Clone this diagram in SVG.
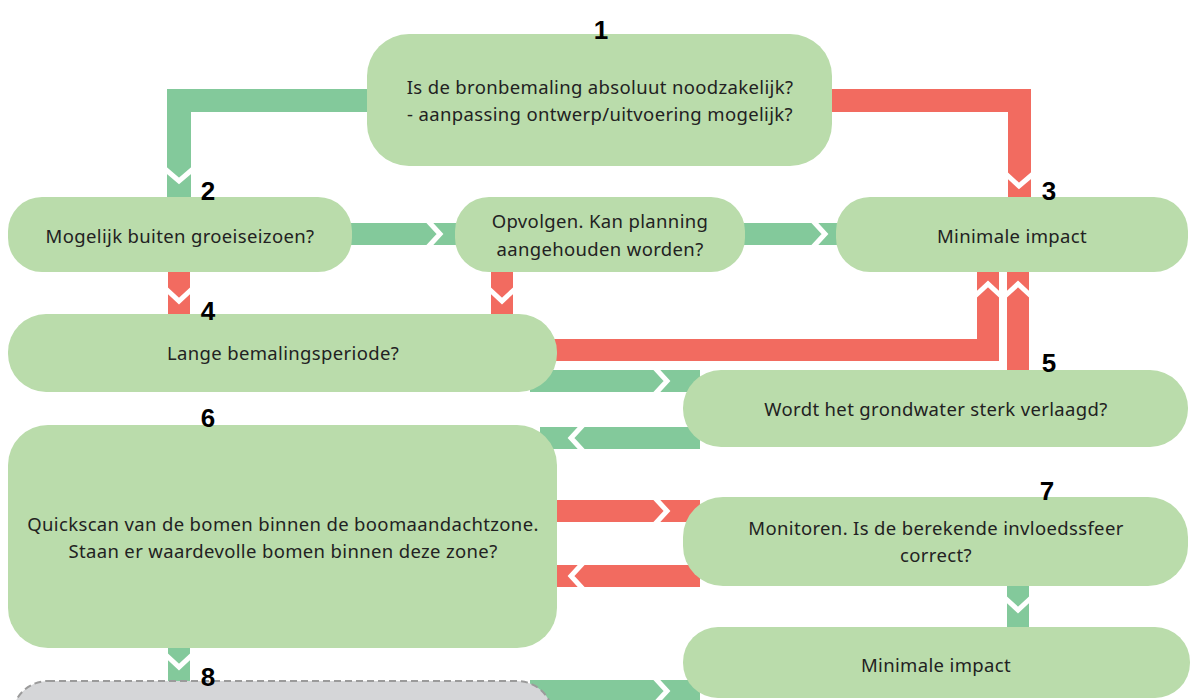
<svg xmlns="http://www.w3.org/2000/svg" width="1193" height="700" viewBox="0 0 1193 700">
<style>
.node{fill:#badcab}
.gray{fill:#d5d6d8;stroke:#9b9b9b;stroke-width:2;stroke-dasharray:7 4}
.t{font-family:"Noto Sans","DejaVu Sans",sans-serif;font-size:18.5px;letter-spacing:0.35px;fill:#222;text-anchor:middle}
.n{font-family:"Liberation Sans",Arial,sans-serif;font-weight:bold;font-size:26px;fill:#000;text-anchor:middle}
.g{fill:#83c99b}
.r{fill:#f26b60}
.chev{fill:none;stroke:#fff;stroke-width:5;stroke-linejoin:miter}
</style>
<rect width="1193" height="700" fill="#fff"/>
<g id="connectors">
  <!-- 1 -> 2 green -->
  <path class="g" d="M380 89 H167 V205 H191 V112 H380 Z"/>
  <polyline class="chev" points="165,169 179,181 193,169"/>
  <!-- 1 -> 3 red -->
  <path class="r" d="M820 89 H1031 V205 H1008 V112 H820 Z"/>
  <polyline class="chev" points="1006,174 1019,186 1033,174"/>
  <!-- 2 -> Opvolgen -->
  <rect class="g" x="340" y="223" width="130" height="22"/>
  <polyline class="chev" points="428,221 440,234 428,247"/>
  <!-- Opvolgen -> 3 -->
  <rect class="g" x="735" y="223" width="115" height="22"/>
  <polyline class="chev" points="813,221 825,234 813,247"/>
  <!-- 2 -> 4 red -->
  <rect class="r" x="168" y="265" width="22" height="55"/>
  <polyline class="chev" points="166,289 179,301 192,289"/>
  <!-- Opvolgen -> 4 red -->
  <rect class="r" x="491" y="265" width="22" height="55"/>
  <polyline class="chev" points="489,289 502,301 515,289"/>
  <!-- 4 -> 3 red -->
  <path class="r" d="M540 361 H999 V262 H977 V339 H540 Z"/>
  <polyline class="chev" points="975,296 988,284 1001,296"/>
  <!-- 5 -> 3 red -->
  <rect class="r" x="1007" y="262" width="22" height="118"/>
  <polyline class="chev" points="1005,296 1018,284 1031,296"/>
  <!-- 4 -> 5 green -->
  <rect class="g" x="530" y="370" width="170" height="22"/>
  <polyline class="chev" points="655,368 667,381 655,394"/>
  <!-- 5 -> 6 green -->
  <rect class="g" x="540" y="427" width="160" height="22"/>
  <polyline class="chev" points="583,425 571,438 583,451"/>
  <!-- 6 -> 7 red -->
  <rect class="r" x="540" y="500" width="160" height="22"/>
  <polyline class="chev" points="655,498 667,511 655,524"/>
  <!-- 7 -> 6 red -->
  <rect class="r" x="540" y="565" width="160" height="22"/>
  <polyline class="chev" points="583,563 571,576 583,589"/>
  <!-- 7 -> bottom impact green -->
  <rect class="g" x="1007" y="578" width="22" height="55"/>
  <polyline class="chev" points="1005,598 1018,610 1031,598"/>
  <!-- 6 -> 8 green -->
  <rect class="g" x="168" y="640" width="22" height="48"/>
  <polyline class="chev" points="166,655 179,667 192,655"/>
  <!-- 8 -> bottom impact green -->
  <rect class="g" x="530" y="680" width="170" height="22"/>
  <polyline class="chev" points="655,678 667,691 655,704"/>
</g>
<g id="node1">
  <rect class="node" x="367" y="34" width="465" height="132" rx="42"/>
  <text class="t" x="600" y="94">Is de bronbemaling absoluut noodzakelijk?</text>
  <text class="t" x="600" y="121">- aanpassing ontwerp/uitvoering mogelijk?</text>
  <text class="n" x="601" y="39">1</text>
</g>
<g id="node2">
  <rect class="node" x="8" y="197" width="344" height="75" rx="34"/>
  <text class="t" x="180" y="243">Mogelijk buiten groeiseizoen?</text>
  <text class="n" x="208" y="200">2</text>
</g>
<g id="node-opvolgen">
  <rect class="node" x="455" y="197" width="290" height="75" rx="34"/>
  <text class="t" x="600" y="228">Opvolgen. Kan planning</text>
  <text class="t" x="600" y="256">aangehouden worden?</text>
</g>
<g id="node3">
  <rect class="node" x="836" y="197" width="352" height="75" rx="34"/>
  <text class="t" x="1012" y="243">Minimale impact</text>
  <text class="n" x="1049" y="200">3</text>
</g>
<g id="node4">
  <rect class="node" x="8" y="314" width="549" height="78" rx="38"/>
  <text class="t" x="283" y="360">Lange bemalingsperiode?</text>
  <text class="n" x="208" y="320">4</text>
</g>
<g id="node5">
  <rect class="node" x="683" y="370" width="505" height="77" rx="38"/>
  <text class="t" x="936" y="416">Wordt het grondwater sterk verlaagd?</text>
  <text class="n" x="1049" y="372">5</text>
</g>
<g id="node6">
  <rect class="node" x="8" y="425" width="549" height="223" rx="40"/>
  <text class="t" x="283" y="531">Quickscan van de bomen binnen de boomaandachtzone.</text>
  <text class="t" x="283" y="558">Staan er waardevolle bomen binnen deze zone?</text>
  <text class="n" x="208" y="427">6</text>
</g>
<g id="node7">
  <rect class="node" x="683" y="497" width="505" height="89" rx="40"/>
  <text class="t" x="936" y="535">Monitoren. Is de berekende invloedssfeer</text>
  <text class="t" x="936" y="562">correct?</text>
  <text class="n" x="1047" y="500">7</text>
</g>
<g id="node-impact2">
  <rect class="node" x="683" y="627" width="507" height="71" rx="35"/>
  <text class="t" x="936" y="672">Minimale impact</text>
</g>
<g id="node8">
  <rect class="gray" x="12" y="681" width="541" height="80" rx="36"/>
  <text class="n" x="208" y="686">8</text>
</g>
</svg>
